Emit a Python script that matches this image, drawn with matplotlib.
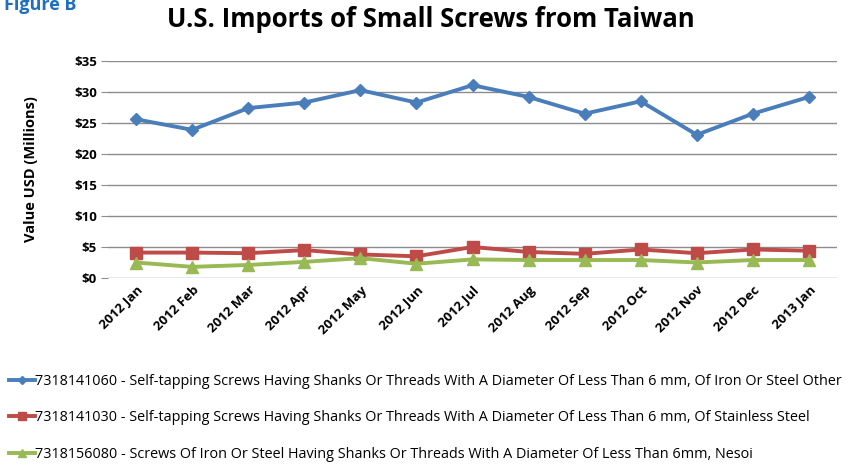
import matplotlib.pyplot as plt
from matplotlib.ticker import FuncFormatter

plt.rcParams["font.family"] = ["Open Sans", "DejaVu Sans"]

months = ["2012 Jan", "2012 Feb", "2012 Mar", "2012 Apr", "2012 May", "2012 Jun",
          "2012 Jul", "2012 Aug", "2012 Sep", "2012 Oct", "2012 Nov", "2012 Dec",
          "2013 Jan"]
other = [25.6, 23.9, 27.4, 28.3, 30.3, 28.3, 31.1, 29.2, 26.5, 28.5, 23.1, 26.5, 29.2]
stainless = [4.1, 4.1, 4.0, 4.5, 3.8, 3.5, 5.0, 4.2, 3.9, 4.6, 4.0, 4.6, 4.4]
nesoi = [2.5, 1.8, 2.1, 2.6, 3.2, 2.3, 3.0, 2.9, 2.9, 2.9, 2.5, 2.9, 2.9]

labels = [
    "7318141060 - Self-tapping Screws Having Shanks Or Threads With A Diameter Of Less Than 6 mm, Of Iron Or Steel Other",
    "7318141030 - Self-tapping Screws Having Shanks Or Threads With A Diameter Of Less Than 6 mm, Of Stainless Steel",
    "7318156080 - Screws Of Iron Or Steel Having Shanks Or Threads With A Diameter Of Less Than 6mm, Nesoi",
]
colors = ["#4a7ebb", "#be4b48", "#98b954"]
markers = ["D", "s", "^"]
msizes = [6, 8, 8]

fig = plt.figure(figsize=(8.67, 4.65), dpi=100)
ax = fig.add_axes([108 / 867, 1 - 278 / 465, 729 / 867, 217 / 465])

x = range(len(months))
handles = []
for series, c, m, ms, lab in zip([other, stainless, nesoi], colors, markers, msizes, labels):
    h, = ax.plot(x, series, color=c, marker=m, markersize=ms, linewidth=2.8, label=lab)
    handles.append(h)

ax.set_xlim(-0.5, len(months) - 0.5)
ax.set_ylim(0, 35)
ax.set_yticks(range(0, 36, 5))
ax.yaxis.set_major_formatter(FuncFormatter(lambda v, p: f"${int(v)}"))
ax.grid(axis="y", color="#8c8c8c", linewidth=1)
ax.set_axisbelow(True)
for s in ["top", "right", "left", "bottom"]:
    ax.spines[s].set_visible(False)
ax.tick_params(axis="y", length=5, color="#8c8c8c", labelsize=9.5, pad=3)
ax.tick_params(axis="x", length=0, labelsize=9.5, pad=4)
ax.set_xticks(list(x))
ax.set_xticklabels(months, rotation=45, ha="right", rotation_mode="anchor", fontweight="bold")
for t in ax.get_yticklabels():
    t.set_fontweight("bold")
ax.set_ylabel("Value USD (Millions)", fontsize=10.5, fontweight="bold", labelpad=26)

fig.text(0.497, 0.958, "U.S. Imports of Small Screws from Taiwan", ha="center", va="center",
         fontsize=18.5, fontweight="bold")
fig.text(0.005, 0.99, "Figure B", ha="left", va="center", fontsize=13,
         fontweight="bold", color="#1f6fbf")

fig.legend(handles=handles, loc="upper left", bbox_to_anchor=(0.0, 0.215),
           frameon=False, fontsize=10.4, handlelength=1.8, handletextpad=0.05,
           labelspacing=1.5, borderaxespad=0.2, markerscale=0.75)

fig.savefig("out.png", dpi=100)
